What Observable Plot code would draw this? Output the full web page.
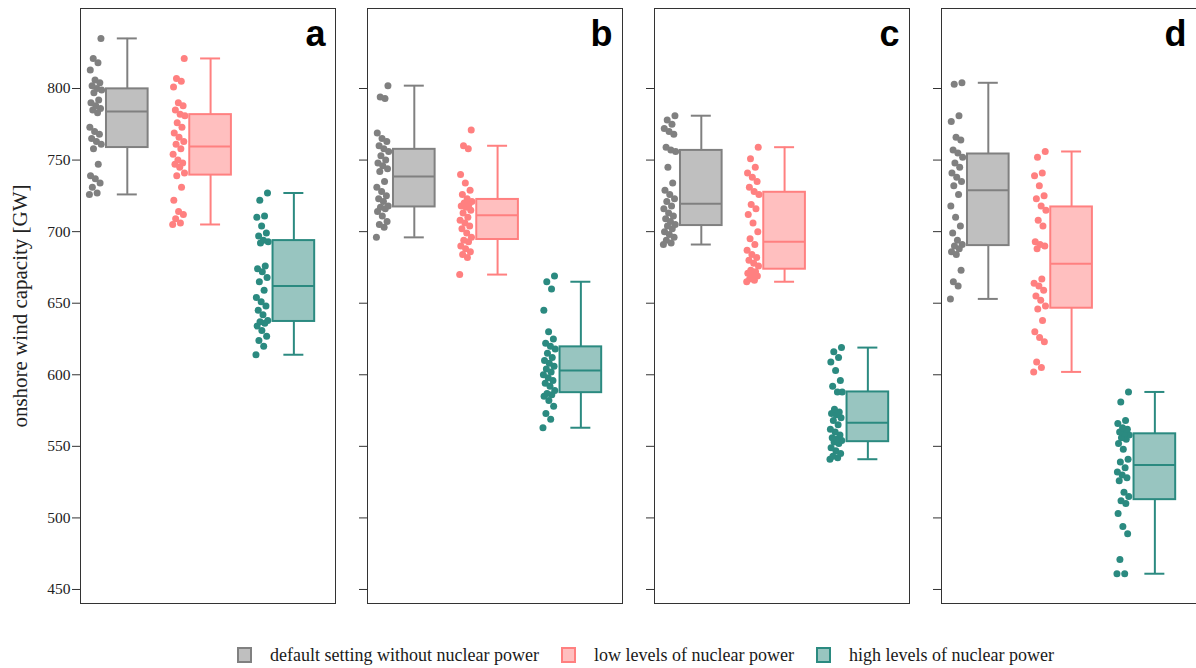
<!DOCTYPE html>
<html>
<head>
<meta charset="utf-8">
<script src="https://cdn.jsdelivr.net/npm/d3@7"></script>
<script src="https://cdn.jsdelivr.net/npm/@observablehq/plot@0.6"></script>
<style>
  html, body { margin: 0; padding: 0; background: #fff; }
  #chart { width: 1196px; height: 668px; overflow: hidden; }
  .legend {
    display: flex; justify-content: center; align-items: center;
    padding-left: 95px; margin-top: 13px; height: 24px;
    font-family: "Liberation Serif", "Times New Roman", serif;
    font-size: 18px; color: #1a1a1a;
  }
  .legend .item { display: flex; align-items: center; margin: 0 11px; }
  .legend .swatch { box-sizing: border-box; width: 15px; height: 16px; border: 2.5px solid; margin-right: 18px; }
</style>
</head>
<body>
<div id="chart"></div>
<script>
// Panels and scenarios
const panels = ["a", "b", "c", "d"];
const scenarios = [
  "default setting without nuclear power",
  "low levels of nuclear power",
  "high levels of nuclear power"
];
const yTicks = [450, 500, 550, 600, 650, 700, 750, 800];
const yTitle = "onshore wind capacity [GW]";

// Onshore wind capacity per model run [GW]
const defaultA = [726, 727, 731, 734, 737, 739, 747, 758, 761, 763, 765, 768, 770, 773, 783, 785, 786, 788, 790, 792, 797, 799, 800, 802, 804, 806, 813, 818, 821, 835];
const lowA     = [705, 706, 709, 712, 714, 722, 731, 739, 741, 745, 747, 748, 750, 754, 758, 761, 763, 766, 769, 773, 776, 781, 782, 785, 788, 790, 801, 805, 807, 821];
const highA    = [614, 620, 624, 627, 631, 634, 636, 637, 638, 642, 645, 648, 651, 654, 659, 665, 668, 672, 674, 676, 692, 693, 694, 697, 699, 704, 710, 711, 722, 727];

const defaultB = [696, 703, 705, 707, 711, 714, 716, 717, 718, 721, 723, 725, 728, 731, 735, 742, 744, 746, 748, 750, 753, 756, 758, 760, 763, 765, 769, 793, 794, 802];
const lowB     = [670, 682, 684, 686, 688, 690, 693, 694, 696, 699, 702, 704, 706, 708, 710, 713, 715, 717, 718, 719, 720, 721, 723, 726, 729, 734, 740, 758, 760, 771];
const highB    = [563, 569, 573, 578, 582, 585, 586, 587, 589, 592, 594, 596, 598, 600, 602, 604, 606, 608, 610, 612, 615, 618, 620, 622, 625, 630, 645, 660, 665, 669];

const defaultC = [691, 692, 694, 696, 698, 700, 702, 704, 705, 707, 709, 711, 713, 716, 718, 721, 723, 726, 729, 734, 745, 756, 757, 759, 768, 770, 772, 775, 778, 781];
const lowC     = [665, 666, 667, 669, 670, 671, 672, 673, 676, 678, 680, 682, 684, 687, 691, 695, 700, 706, 712, 716, 719, 726, 728, 731, 735, 738, 741, 745, 751, 759];
const highC    = [541, 542, 543, 545, 547, 549, 552, 553, 554, 555, 556, 558, 560, 562, 565, 568, 570, 572, 573, 574, 576, 588, 588, 592, 596, 603, 609, 612, 616, 619];

const defaultD = [653, 662, 665, 673, 684, 686, 688, 690, 691, 694, 699, 704, 710, 718, 726, 732, 735, 738, 741, 745, 748, 752, 755, 757, 764, 766, 777, 781, 803, 804];
const lowD     = [602, 605, 609, 623, 626, 630, 638, 646, 648, 652, 655, 659, 662, 664, 667, 688, 690, 691, 693, 704, 708, 715, 718, 723, 725, 732, 739, 741, 752, 756];
const highD    = [461, 461, 471, 489, 494, 503, 510, 512, 515, 518, 526, 528, 530, 532, 535, 539, 541, 548, 552, 555, 556, 558, 559, 560, 562, 563, 566, 568, 581, 588];

const runs = {
  a: [defaultA, lowA, highA],
  b: [defaultB, lowB, highB],
  c: [defaultC, lowC, highC],
  d: [defaultD, lowD, highD]
};

// Styling per scenario
const strokeColors = ["#808080", "#ff8080", "#2b8a80"];
const fillColors = ["#bfbfbf", "#ffbfbf", "#98c5c0"];

// Long table of points and box statistics
const points = [];
const boxes = [];
for (const panel of panels) {
  runs[panel].forEach((vals, group) => {
    vals.forEach((value, k) => points.push({panel, group, value, k}));
    const s = vals.slice().sort(d3.ascending);
    const q1 = d3.quantileSorted(s, 0.25);
    const med = d3.quantileSorted(s, 0.5);
    const q3 = d3.quantileSorted(s, 0.75);
    const iqr = q3 - q1;
    const lo = d3.min(s.filter(v => v >= q1 - 1.5 * iqr));
    const hi = d3.max(s.filter(v => v <= q3 + 1.5 * iqr));
    boxes.push({panel, group, q1, med, q3, lo, hi});
  });
}

// Deterministic horizontal spread for the dots beside each box
const spread = k => (((k * 0.618034) % 1) - 0.5) * 0.15;
const boxHalf = 0.25, capHalf = 0.12, dotOffset = 0.38;

const chart = Plot.plot({
  width: 1196,
  height: 630,
  marginTop: 8,
  marginBottom: 27,
  marginLeft: 80,
  marginRight: 0,
  style: {fontFamily: "'Liberation Serif', 'Times New Roman', serif", fontSize: "15.5px", color: "#222", background: "#fff"},
  fx: {domain: panels, axis: null, paddingInner: 0.1115, paddingOuter: 0},
  x: {domain: [-0.562, 2.5], axis: null},
  y: {domain: [440.2, 855.9]},
  color: {type: "identity"},
  marks: [
    Plot.frame({stroke: "#333", strokeWidth: 1}),
    // tick marks on every panel
    Plot.axisY({ticks: yTicks, tickSize: 8, stroke: "#333", fill: "none", label: null, facetAnchor: null}),
    // tick labels on the first panel
    Plot.axisY({ticks: yTicks, tickSize: 0, tickPadding: 10, fill: "#222", fontSize: 15.5, label: null}),
    Plot.text([yTitle], {fx: () => "a", text: d => d, frameAnchor: "left", rotate: -90, textAnchor: "middle", dx: -60, fontSize: 21, fill: "#222"}),
    // whiskers
    Plot.ruleX(boxes, {fx: "panel", x: "group", y1: "lo", y2: "q1", stroke: d => strokeColors[d.group], strokeWidth: 2}),
    Plot.ruleX(boxes, {fx: "panel", x: "group", y1: "q3", y2: "hi", stroke: d => strokeColors[d.group], strokeWidth: 2}),
    Plot.ruleY(boxes, {fx: "panel", y: "lo", x1: d => d.group - capHalf, x2: d => d.group + capHalf, stroke: d => strokeColors[d.group], strokeWidth: 2}),
    Plot.ruleY(boxes, {fx: "panel", y: "hi", x1: d => d.group - capHalf, x2: d => d.group + capHalf, stroke: d => strokeColors[d.group], strokeWidth: 2}),
    // boxes and medians
    Plot.rect(boxes, {fx: "panel", x1: d => d.group - boxHalf, x2: d => d.group + boxHalf, y1: "q1", y2: "q3", fill: d => fillColors[d.group], stroke: d => strokeColors[d.group], strokeWidth: 2}),
    Plot.ruleY(boxes, {fx: "panel", y: "med", x1: d => d.group - boxHalf, x2: d => d.group + boxHalf, stroke: d => strokeColors[d.group], strokeWidth: 2}),
    // individual runs
    Plot.dot(points, {fx: "panel", x: d => d.group - dotOffset + spread(d.k), y: "value", r: 3.5, fill: d => strokeColors[d.group], stroke: "none"}),
    // panel letters
    Plot.text(panels, {fx: d => d, text: d => d, frameAnchor: "top-right", dx: -10, dy: 12, fontSize: 36, fontWeight: "bold", fontFamily: "'Liberation Sans', Arial, sans-serif", fill: "#000"})
  ]
});

const root = document.getElementById("chart");
root.appendChild(chart);

const legend = document.createElement("div");
legend.className = "legend";
scenarios.forEach((name, i) => {
  const item = document.createElement("div");
  item.className = "item";
  const sw = document.createElement("span");
  sw.className = "swatch";
  sw.style.borderColor = strokeColors[i];
  sw.style.background = fillColors[i];
  const label = document.createElement("span");
  label.textContent = name;
  item.appendChild(sw);
  item.appendChild(label);
  legend.appendChild(item);
});
root.appendChild(legend);
</script>
</body>
</html>
